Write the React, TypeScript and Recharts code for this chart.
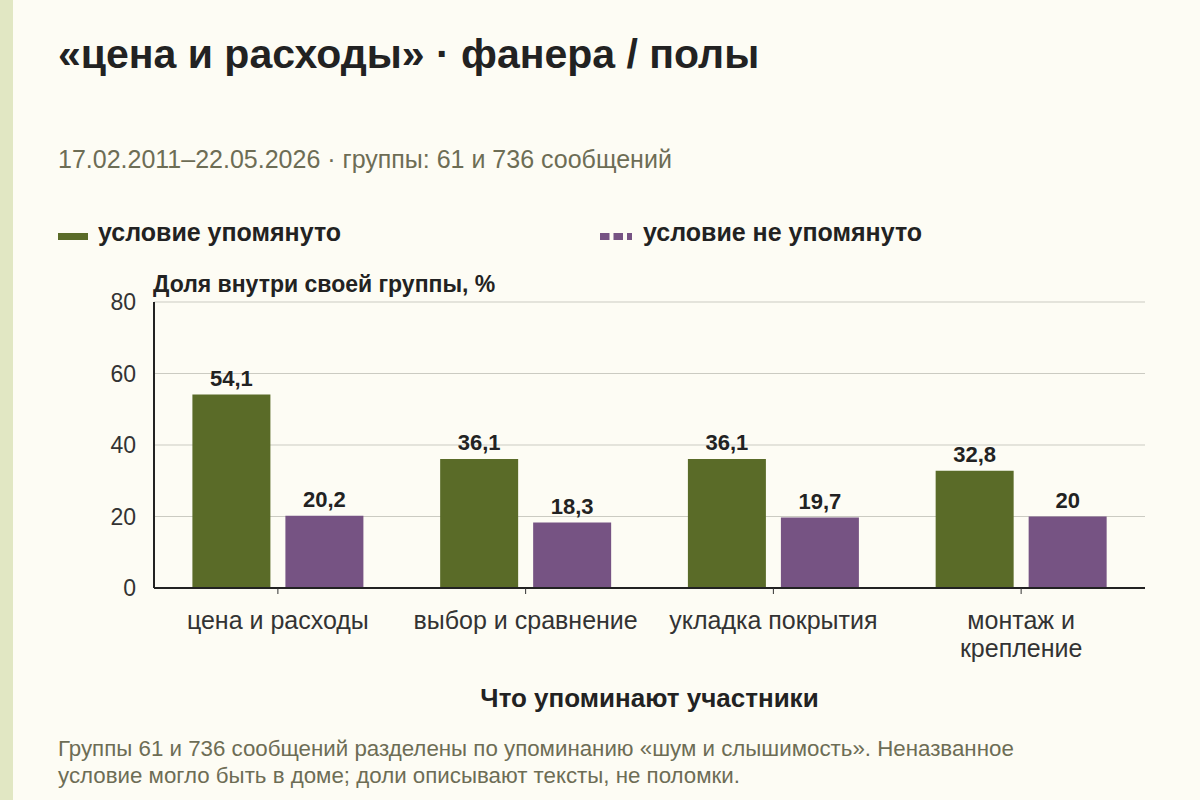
import { BarChart, Bar, XAxis, YAxis, CartesianGrid, LabelList } from 'recharts';

const categories = ['цена и расходы', 'выбор и сравнение', 'укладка покрытия', 'монтаж и\nкрепление'];
const mentioned = [54.1, 36.1, 36.1, 32.8];
const notMentioned = [20.2, 18.3, 19.7, 20];
const yTicks = [0, 20, 40, 60, 80];

const data = categories.map((name, i) => ({
  name,
  mentioned: mentioned[i],
  notMentioned: notMentioned[i],
}));

const GREEN = '#5a6b28';
const PURPLE = '#765383';
const FONT = '"Liberation Sans", Arial, sans-serif';

const fmt = (v: any) => String(v).replace('.', ',');

function CategoryTick(props: any) {
  const { x, y, payload } = props;
  const lines = String(payload.value).split('\n');
  return (
    <text x={x} y={y + 33} textAnchor="middle" fill="#333" fontSize={25} fontFamily={FONT}>
      {lines.map((line, i) => (
        <tspan key={i} x={x} dy={i === 0 ? 0 : 28}>
          {line}
        </tspan>
      ))}
    </text>
  );
}

export default function App() {
  return (
    <div
      style={{
        position: 'absolute',
        left: 0,
        top: 0,
        width: 1200,
        height: 800,
        background: '#fdfcf4',
        fontFamily: FONT,
        overflow: 'hidden',
      }}
    >
      <div style={{ position: 'absolute', left: 0, top: 0, width: 13, height: 800, background: '#e1e7c3' }} />
      <div style={{ position: 'absolute', left: 58, top: 31, fontSize: 41, fontWeight: 700, color: '#222' }}>
        «цена и расходы» · фанера / полы
      </div>
      <div style={{ position: 'absolute', left: 58, top: 145, fontSize: 25, color: '#6d6d55' }}>
        17.02.2011–22.05.2026 · группы: 61 и 736 сообщений
      </div>

      <div style={{ position: 'absolute', left: 58, top: 233, width: 30, height: 7, background: GREEN }} />
      <div style={{ position: 'absolute', left: 98, top: 218, fontSize: 25, fontWeight: 700, color: '#222' }}>
        условие упомянуто
      </div>
      <svg style={{ position: 'absolute', left: 600, top: 233 }} width={32} height={7}>
        <line x1={0} y1={3.5} x2={32} y2={3.5} stroke={PURPLE} strokeWidth={7} strokeDasharray="9.5 4" />
      </svg>
      <div style={{ position: 'absolute', left: 643, top: 218, fontSize: 25, fontWeight: 700, color: '#222' }}>
        условие не упомянуто
      </div>

      <div style={{ position: 'absolute', left: 153, top: 271, fontSize: 23, fontWeight: 700, color: '#222' }}>
        Доля внутри своей группы, %
      </div>

      <div style={{ position: 'absolute', left: 0, top: 0 }}>
        <BarChart
          width={1200}
          height={800}
          data={data}
          margin={{ top: 302, right: 55, bottom: 152, left: 94 }}
          barCategoryGap="15.5%"
          barGap={15}
        >
          <CartesianGrid vertical={false} stroke="#cbcbc2" strokeWidth={1} />
          <XAxis
            dataKey="name"
            height={60}
            interval={0}
            tick={<CategoryTick />}
            tickLine={{ stroke: '#333', strokeWidth: 1 }}
            tickSize={6}
            axisLine={{ stroke: '#222', strokeWidth: 2 }}
          />
          <YAxis
            width={60}
            domain={[0, 80]}
            ticks={yTicks}
            tickLine={false}
            tickSize={0}
            tickMargin={18}
            axisLine={{ stroke: '#222', strokeWidth: 2 }}
            tick={{ fill: '#333', fontSize: 23, fontFamily: FONT }}
          />
          <Bar dataKey="mentioned" fill={GREEN} isAnimationActive={false}>
            <LabelList
              dataKey="mentioned"
              position="top"
              offset={9}
              formatter={fmt}
              style={{ fill: '#222', fontSize: 22, fontWeight: 700, fontFamily: FONT }}
            />
          </Bar>
          <Bar dataKey="notMentioned" fill={PURPLE} isAnimationActive={false}>
            <LabelList
              dataKey="notMentioned"
              position="top"
              offset={9}
              formatter={fmt}
              style={{ fill: '#222', fontSize: 22, fontWeight: 700, fontFamily: FONT }}
            />
          </Bar>
        </BarChart>
      </div>

      <div
        style={{
          position: 'absolute',
          left: 154,
          width: 991,
          top: 683,
          textAlign: 'center',
          fontSize: 26,
          fontWeight: 700,
          color: '#222',
        }}
      >
        Что упоминают участники
      </div>
      <div style={{ position: 'absolute', left: 58, top: 735, width: 1130, fontSize: 22.3, lineHeight: '27px', color: '#6d6d55' }}>
        Группы 61 и 736 сообщений разделены по упоминанию «шум и слышимость». Неназванное
        <br />
        условие могло быть в доме; доли описывают тексты, не поломки.
      </div>
    </div>
  );
}
